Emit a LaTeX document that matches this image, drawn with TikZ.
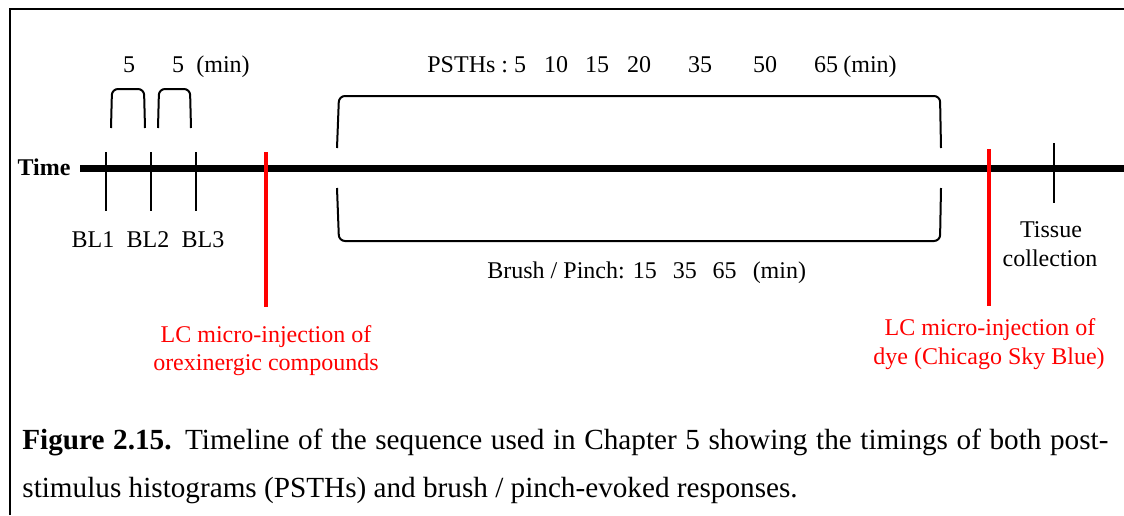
\documentclass[tikz,border=0pt]{standalone}
\usepackage{fontspec}
\setmainfont{Liberation Serif}
\begin{document}
\begin{tikzpicture}[x=0.5pt,y=-0.5pt,
  txt/.style={font=\fontsize{12}{14}\selectfont, inner sep=0pt, anchor=base},
  captxt/.style={font=\fontsize{14.6}{17}\selectfont, inner sep=0pt, anchor=base west},
  redtxt/.style={txt, text=red},
  tickline/.style={line width=0.9pt},
  bracketline/.style={line width=1pt, rounded corners=3pt},
  redline/.style={red, line width=2pt},
  frameline/.style={line width=1pt},
  timeline/.style={line width=3.5pt}]
\useasboundingbox (0,0) rectangle (1124,515);
% frame
\coordinate (fTL) at (10,9);
\coordinate (fBL) at (10,515);
\coordinate (fTR) at (1124,9);
\draw[frameline] (fBL) -- (fTL) -- (fTR);
% time axis
\node[txt, font=\fontsize{12}{14}\selectfont\bfseries] (time) at (44,175) {Time};
\coordinate (tl0) at (80,168);
\coordinate (tl1) at (1124,168);
\draw[timeline] (tl0) -- (tl1);
% baseline ticks
\coordinate (b1t) at (106,152); \coordinate (b1b) at (106,211);
\coordinate (b2t) at (151,152); \coordinate (b2b) at (151,211);
\coordinate (b3t) at (196,152); \coordinate (b3b) at (196,211);
\draw[tickline] (b1t) -- (b1b);
\draw[tickline] (b2t) -- (b2b);
\draw[tickline] (b3t) -- (b3b);
\node[txt] (bl1) at (93,247) {BL1};
\node[txt] (bl2) at (148,247) {BL2};
\node[txt] (bl3) at (203,247) {BL3};
% small brackets
\draw[bracketline] (111,128) -- (112,89) -- (144,89) -- (145,128);
\draw[bracketline] (158,128) -- (159,89) -- (190,89) -- (191,128);
\node[txt] (five1) at (129,72) {5};
\node[txt] (five2) at (178,72) {5};
\node[txt] (min1) at (223,72) {(min)};
% big brackets
\draw[bracketline] (337,148) -- (339,96) -- (940,96) -- (941,148);
\draw[bracketline] (337,188) -- (339,241) -- (940,241) -- (941,188);
\node[txt, anchor=base west] (psth) at (427,72) {PSTHs :};
\node[txt] (p5) at (520,72) {5};
\node[txt] (p10) at (556,72) {10};
\node[txt] (p15) at (597,72) {15};
\node[txt] (p20) at (639,72) {20};
\node[txt] (p35) at (700,72) {35};
\node[txt] (p50) at (765,72) {50};
\node[txt] (p65) at (826,72) {65};
\node[txt, anchor=base west] (pmin) at (843,72) {(min)};
\node[txt, anchor=base west] (brush) at (487,278) {Brush / Pinch: 15\hspace{8pt}35\hspace{8pt}65\hspace{8pt}(min)};
% red injections
\coordinate (r1t) at (266,152); \coordinate (r1b) at (266,307);
\draw[redline] (r1t) -- (r1b);
\node[redtxt] (lc1a) at (266,342) {LC micro-injection of};
\node[redtxt] (lc1b) at (266,370) {orexinergic compounds};
\coordinate (r2t) at (989,149); \coordinate (r2b) at (989,306);
\draw[redline] (r2t) -- (r2b);
\node[redtxt] (lc2a) at (990,335) {LC micro-injection of};
\node[redtxt] (lc2b) at (989,364) {dye (Chicago Sky Blue)};
% tissue collection
\coordinate (tct) at (1054,143); \coordinate (tcb) at (1054,203);
\draw[tickline] (tct) -- (tcb);
\node[txt] (tis) at (1051,237) {Tissue};
\node[txt] (col) at (1050,266) {collection};
% caption
\node[captxt] (cap1) at (22,449) {\makebox[543pt][s]{\textbf{Figure 2.15.} Timeline of the sequence used in Chapter 5 showing the timings of both post-}};
\node[captxt] (cap2) at (22,497) {stimulus histograms (PSTHs) and brush / pinch-evoked responses.};
\end{tikzpicture}
\end{document}
